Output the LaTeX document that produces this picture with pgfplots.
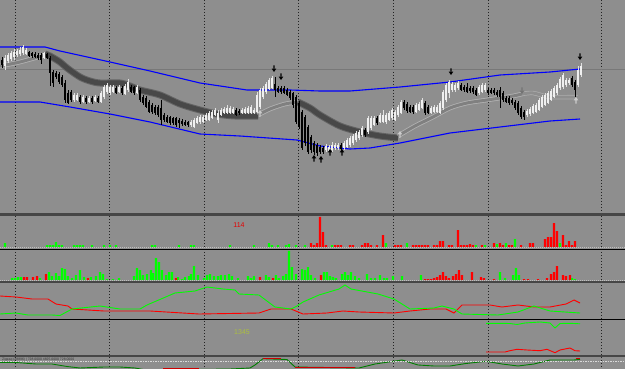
\documentclass[border=0pt]{standalone}
\usepackage{pgfplots}
\pgfplotsset{compat=1.18}
\usepackage{pgfplotstable}
\usepackage{fontspec}
\setmainfont{Liberation Sans}

\definecolor{bg}{RGB}{142,142,142}
\definecolor{sepc}{RGB}{70,70,70}
\definecolor{gridc}{RGB}{35,35,35}
\definecolor{ribedge}{RGB}{100,100,100}
\definecolor{ribcore}{RGB}{72,72,72}
\definecolor{ltedge}{RGB}{178,178,178}
\definecolor{ltcore}{RGB}{128,128,128}
\definecolor{hgreen}{RGB}{0,255,0}
\definecolor{hred}{RGB}{255,0,0}
\definecolor{dkgreen}{RGB}{0,125,0}
\definecolor{olive1}{RGB}{172,192,62}
\definecolor{mblue}{RGB}{0,0,255}

\pgfdeclareplotmark{darr}{%
  \pgfpathrectanglecorners{\pgfpoint{-0.6pt}{0pt}}{\pgfpoint{0.6pt}{3.6pt}}%
  \pgfpathmoveto{\pgfpoint{-2.3pt}{0.4pt}}%
  \pgfpathlineto{\pgfpoint{2.3pt}{0.4pt}}%
  \pgfpathlineto{\pgfpoint{0pt}{-3pt}}%
  \pgfpathclose
  \pgfusepathqfill}
\pgfdeclareplotmark{uarr}{%
  \pgfpathrectanglecorners{\pgfpoint{-0.6pt}{0pt}}{\pgfpoint{0.6pt}{-3.6pt}}%
  \pgfpathmoveto{\pgfpoint{-2.3pt}{-0.4pt}}%
  \pgfpathlineto{\pgfpoint{2.3pt}{-0.4pt}}%
  \pgfpathlineto{\pgfpoint{0pt}{3pt}}%
  \pgfpathclose
  \pgfusepathqfill}

\pgfplotsset{panel/.style={scale only axis, width=625pt, xmin=0, xmax=625,
  hide axis, anchor=north west}}

% candles: x, body top, body bottom, wick top, wick bottom (screen rows)
\pgfplotstableread{
x bt bb wt wb
5 58 66 55 70
8 55 61 53 63
11 53 59 51 61
14 52 57 49 60
17 51 55 49 57
20 50 54 47 56
23 47 53 45 55
26 50 54 48 55
44 53 58 52 59
74 95 100 93 102
77 95 100 93 101
83 97 102 95 103
89 98 102 96 103
95 97 101 95 102
101 93 102 91 103
104 87 97 85 99
107 85 92 83 94
110 87 93 85 95
113 87 92 85 93
119 87 92 85 93
125 86 94 84 95
128 82 90 79 92
137 87 93 85 94
191 122 125 120 127
194 120 127 118 128
197 118 123 116 124
200 117 122 115 124
203 117 122 115 123
206 115 120 113 121
209 113 120 111 121
212 112 118 110 119
215 110 115 108 116
218 113 120 110 123
221 110 115 108 116
224 109 113 107 114
227 108 113 105 114
230 108 113 106 114
233 109 113 107 114
242 110 113 108 114
245 109 113 107 114
248 108 113 106 114
251 107 113 105 114
254 110 113 108 114
257 95 112 92 113
260 90 107 88 109
263 88 97 86 99
266 84 92 82 94
269 80 89 78 90
272 78 88 76 89
326 146 150 144 152
329 147 152 145 153
332 145 150 142 152
335 145 148 143 150
338 145 148 143 150
344 143 148 141 150
347 140 147 138 148
350 138 145 136 147
353 136 143 134 145
356 133 140 131 142
359 132 138 130 140
362 128 135 126 137
368 118 132 116 134
371 118 128 116 130
374 118 125 116 126
380 115 122 113 123
383 115 122 110 123
386 115 122 113 124
389 113 120 111 121
392 110 118 108 120
395 112 120 110 121
398 107 115 105 117
401 102 113 100 114
416 105 112 103 113
419 104 110 102 111
422 100 108 98 109
431 108 113 106 114
434 107 112 105 113
437 107 112 105 113
440 103 113 101 114
443 92 108 90 110
446 85 100 83 102
449 82 93 80 98
452 84 90 82 92
455 85 90 83 92
458 83 88 81 90
479 87 93 85 95
482 85 92 83 93
485 85 90 83 92
527 111 115 109 117
530 109 114 107 116
533 106 113 104 114
536 105 112 103 113
539 100 110 98 111
542 97 107 95 108
545 95 105 93 106
548 93 103 91 104
551 91 100 89 101
554 88 97 86 98
557 85 93 83 95
560 79 88 77 90
563 75 87 73 89
566 80 85 78 87
569 80 83 78 85
578 70 85 66 87
581 66 75 63 77
}\wc
\pgfplotstableread{
x bt bb wt wb
2 60 65 57 68
29 52 56 51 57
32 53 56 52 58
35 54 57 52 58
38 55 58 53 60
41 55 60 53 64
47 54 58 53 59
50 58 73 56 86
53 72 83 70 87
56 73 77 71 79
59 74 82 72 84
62 77 85 75 87
65 83 100 80 103
68 93 103 90 104
71 92 100 90 102
80 97 102 95 104
86 98 102 96 104
92 98 102 96 104
98 98 102 96 103
116 88 93 86 94
122 88 93 86 95
131 87 92 85 93
134 87 93 86 95
140 90 100 88 102
143 97 103 95 105
146 98 107 96 108
149 102 112 100 113
152 105 112 103 114
155 107 113 105 115
158 107 115 105 117
161 108 120 100 125
164 115 120 113 122
167 117 122 115 123
170 117 123 116 125
173 118 123 117 125
176 118 125 117 127
179 120 123 118 128
182 121 124 119 126
185 122 125 120 126
188 122 125 121 127
236 110 115 108 116
239 111 113 109 115
275 84 90 77 97
278 88 92 86 93
281 88 92 86 94
284 88 93 86 94
287 90 95 88 96
290 92 98 90 100
293 93 105 92 108
296 97 122 95 124
299 103 127 101 129
302 112 148 110 150
305 117 143 115 146
308 127 152 125 154
311 137 150 135 153
314 143 152 141 155
317 145 153 143 156
320 147 152 145 154
323 148 152 146 154
341 145 149 143 151
365 130 135 128 137
377 118 123 116 125
404 102 108 100 110
407 104 111 102 113
410 107 112 105 113
413 107 112 105 114
425 103 113 101 115
428 107 113 105 114
461 85 90 83 91
464 87 90 85 92
467 87 92 83 93
470 88 91 86 93
473 88 92 86 94
476 90 95 88 96
488 90 93 88 95
491 90 93 88 94
494 90 93 88 95
497 92 95 90 97
500 90 97 87 108
503 93 100 91 102
506 98 102 96 103
509 98 103 96 105
512 100 103 98 105
515 102 108 100 110
518 103 113 101 115
521 108 117 106 119
524 112 117 110 120
572 78 85 76 87
575 82 90 80 97
}\bc

% histogram 1
\pgfplotstableread{
x h
5 4
47 2
50 2
53 2
56 5
59 2
62 2
74 2
77 2
80 2
83 2
92 2
104 2
110 2
116 2
152 2
155 2
179 2
191 2
194 2
230 2
254 2
269 4
272 2
278 2
286 2
289 3
296 2
305 2
332 2
386 4
407 4
476 2
485 2
497 3
506 4
515 8
560 4
}\hAg
\pgfplotstableread{
x h
311 4
314 2
317 4
320 30
323 15
326 2
335 2
338 2
341 2
350 2
353 2
362 2
365 4
368 4
371 2
377 2
383 12
395 2
398 2
401 2
413 2
416 2
419 2
422 2
425 2
428 2
434 2
437 2
440 6
443 6
449 2
452 2
458 17
461 2
464 2
467 2
470 3
473 2
482 2
494 4
500 4
503 2
509 2
512 2
521 2
530 4
533 4
545 8
548 10
551 10
554 24
557 16
563 12
566 2
569 6
572 2
575 6
}\hAr
% histogram 2
\pgfplotstableread{
x h
12 2
15 2
18 3
21 3
40 2
49 8
52 4
56 7
59 4
62 12
65 11
68 4
72 2
76 5
80 10
84 3
91 3
96 4
100 8
103 6
107 1
113 1
119 2
134 4
137 12
140 10
143 5
147 6
151 10
153 7
156 22
159 18
162 10
166 5
169 8
172 8
178 3
182 1
185 3
189 4
191 6
194 14
198 5
204 2
207 5
210 6
214 4
218 4
221 5
225 5
229 6
232 4
238 2
248 4
251 2
254 4
266 5
269 3
276 5
279 2
283 4
286 6
289 29
292 13
296 6
302 11
305 10
308 13
311 5
315 2
324 8
327 8
330 4
333 3
336 2
342 6
345 8
348 5
351 8
355 4
359 2
367 6
371 2
375 2
380 5
384 2
387 2
393 4
402 4
421 5
500 8
505 2
513 5
516 12
519 5
572 2
575 1
}\hBg
\pgfplotstableread{
x h
24 3
27 3
33 3
37 4
46 6
88 2
176 2
260 3
273 2
321 5
425 1
428 1
431 1
434 2
437 3
440 5
443 8
446 4
449 2
453 4
456 6
459 10
462 5
472 8
481 3
484 2
494 1
524 1
528 1
538 1
547 2
551 6
554 8
557 14
563 5
566 4
570 5
}\hBr

\begin{document}
\begin{tikzpicture}[x=1pt,y=1pt]
\fill[bg] (0pt,0pt) rectangle (625pt,-369pt);
\useasboundingbox (0pt,0pt) rectangle (625pt,-369pt);
% grid
\foreach \gx in {15.5,109.5,204,298.5,393.5,488.3,601.5}
  \draw[gridc, line width=0.55pt, dash pattern=on 1pt off 2pt] (\gx pt,0pt) -- (\gx pt,-369pt);
\draw[black!53, line width=0.6pt] (0pt,-69pt) -- (625pt,-69pt);

% ===== main panel =====
\begin{axis}[panel, at={(0pt,0pt)}, height=213pt, ymin=0, ymax=213, y dir=reverse]
\addplot[no marks, mblue, line width=1.1pt] coordinates {(0,47)(20,47)(45,47)(60,51)(110,62)(150,71)(200,83)(247,90)(290,90)(320,91)(350,91)(400,87)(450,82)(500,75)(550,72)(580,69)};
\addplot[no marks, mblue, line width=1.1pt] coordinates {(0,102)(40,102)(70,107)(110,114)(150,122)(200,134)(240,136)(297,140)(320,146)(350,149)(370,148)(400,143)(450,133)(500,127)(550,121)(580,119)};
% ribbons
\addplot[no marks, smooth, draw=ltedge, double=ltcore, double distance=3pt, line width=0.8pt] coordinates {(0,66)(20,62)(45,55)};
\addplot[no marks, smooth, draw=ribedge, double=ribcore, double distance=5pt, line width=1pt] coordinates {(45,54)(50,56)(60,62)(67,68)(80,77)(90,81)(100,83)(120,83)(130,86)(140,90)(160,95)(180,104)(200,110)(217,114)(235,116)(258,116)};
\addplot[no marks, smooth, draw=ltedge, double=ltcore, double distance=3pt, line width=0.8pt] coordinates {(258,115)(270,109)(285,104)(298,102)};
\addplot[no marks, smooth, draw=ribedge, double=ribcore, double distance=5pt, line width=1pt] coordinates {(298,102)(310,108)(320,115)(340,126)(360,132)(380,136)(398,138)};
\addplot[no marks, smooth, draw=ltedge, double=ltcore, double distance=3pt, line width=0.8pt] coordinates {(398,136)(415,126)(433,117)(450,108)(467,103)(487,100)(500,98)(513,96)(522,94)};
\addplot[no marks, smooth, draw=ltedge!85!bg, double=bg, double distance=3pt, line width=0.7pt] coordinates {(522,94)(533,93)(550,97)(578,97)};
% candles: wicks then bodies
\addplot[draw=none, error bars/.cd, y dir=both, y explicit, error mark=none, error bar style={draw=white!88!black, line width=0.6pt}]
  table[x=x, y expr={(\thisrow{wt}+\thisrow{wb})/2}, y error expr={(\thisrow{wb}-\thisrow{wt})/2}] {\wc};
\addplot[draw=none, error bars/.cd, y dir=both, y explicit, error mark=none, error bar style={draw=white!94!black, line width=1.9pt}]
  table[x=x, y expr={(\thisrow{bt}+\thisrow{bb})/2}, y error expr={(\thisrow{bb}-\thisrow{bt})/2}] {\wc};
\addplot[draw=none, error bars/.cd, y dir=both, y explicit, error mark=none, error bar style={draw=black, line width=0.6pt}]
  table[x=x, y expr={(\thisrow{wt}+\thisrow{wb})/2}, y error expr={(\thisrow{wb}-\thisrow{wt})/2}] {\bc};
\addplot[draw=none, error bars/.cd, y dir=both, y explicit, error mark=none, error bar style={draw=black, line width=1.9pt}]
  table[x=x, y expr={(\thisrow{bt}+\thisrow{bb})/2}, y error expr={(\thisrow{bb}-\thisrow{bt})/2}] {\bc};
% arrows
\addplot[only marks, mark=darr, black] coordinates {(274,69)(281,77)(451,72)(580,57)};
\addplot[only marks, mark=uarr, black] coordinates {(314,158)(321,159)(330,152)(342,152)};
\addplot[only marks, mark=uarr, black!20] coordinates {(260,113)(400,134)(576,100)};
\addplot[only marks, mark=darr, black!55] coordinates {(522,91)};
\end{axis}

% ===== histogram 1 =====
\begin{axis}[panel, at={(0pt,-216pt)}, height=31pt, ymin=0, ymax=31]
\addplot[ybar, bar width=2.2pt, bar shift=0pt, fill=hgreen, draw=none] table[x=x,y=h] {\hAg};
\addplot[ybar, bar width=2.2pt, bar shift=0pt, fill=hred, draw=none] table[x=x,y=h] {\hAr};
\node[text=red!90!black, font=\fontsize{7}{7}\selectfont] at (axis cs:239,22) {114};
\end{axis}

% ===== histogram 2 =====
\begin{axis}[panel, at={(0pt,-250pt)}, height=30pt, ymin=0, ymax=30]
\addplot[ybar, bar width=2.2pt, bar shift=0pt, fill=hgreen, draw=none] table[x=x,y=h] {\hBg};
\addplot[ybar, bar width=2.2pt, bar shift=0pt, fill=hred, draw=none] table[x=x,y=h] {\hBr};
\end{axis}

% ===== line panel =====
\begin{axis}[panel, at={(0pt,-283pt)}, height=36pt, ymin=283, ymax=319, y dir=reverse]
\addplot[no marks, hred, line width=0.9pt] coordinates {(0,296)(16,297)(32,299)(48,299)(56,304)(68,306)(72,309)(104,311)(140,311)(150,311)(199,314)(259,313)(271,309)(291,309)(303,314)(327,313)(343,311)(359,312)(394,313)(410,311)(430,309)(446,309)(454,313)(462,305)(474,305)(490,305)(502,307)(518,305)(534,307)(550,307)(566,304)(574,300)(580,303)};
\addplot[no marks, hgreen, line width=0.9pt] coordinates {(0,314)(16,313)(28,315)(52,315)(60,315.5)(72,309)(100,306)(120,309)(140,309)(147,305)(175,293)(195,291)(207,287)(223,289)(235,290)(239,294)(259,295)(275,307)(291,309)(297,306)(303,302)(319,295)(339,289)(345,285)(351,289)(378,294)(394,299)(410,309)(434,308)(442,306)(454,309)(462,314)(498,315)(518,312)(534,306)(550,311)(580,313)};
\end{axis}

% ===== second line panel =====
\begin{axis}[panel, at={(0pt,-320pt)}, height=35pt, ymin=320, ymax=355, y dir=reverse]
\addplot[no marks, hgreen, line width=0.9pt] coordinates {(486,323.3)(500,323.3)(510,323.5)(517,324.5)(525,323)(540,322)(550,323)(555,328)(560,323.5)(570,323.3)(580,323.8)};
\addplot[no marks, hred, line width=0.9pt] coordinates {(486,352)(505,352)(510,350.7)(517,349.3)(527,350)(540,350.7)(547,349.3)(555,352.7)(560,350)(570,348)(575,350.7)(580,351)};
\node[text=olive1, font=\fontsize{7}{7}\selectfont] at (axis cs:242,332) {1345};
\end{axis}

% ===== bottom panel =====
\begin{axis}[panel, at={(0pt,-357pt)}, height=12pt, ymin=357, ymax=369, y dir=reverse]
\addplot[no marks, dkgreen, line width=0.9pt] coordinates {(0,362.3)(16,362.5)(36,364)(52,364)(67,366.5)(80,368)(104,367)(120,367)(135,368)(143,369.5)(195,369.5)(230,369)(250,368)(255,365)(263,358.7)(287,359.5)(295,367)(359,368)(375,364)(402,360)(418,365)(434,366)(450,366)(466,363.5)(486,361.3)(502,364)(518,366)(534,364)(550,360)(574,360)(580,359.3)};
\addplot[no marks, red!80!black, line width=1pt] coordinates {(163,368)(199,368)};
\addplot[no marks, red!80!black, line width=1pt] coordinates {(295,367)(355,367)};
\addplot[no marks, red!80!black, line width=1.2pt] coordinates {(263,358.6)(281,358.6)};
\addplot[no marks, red!80!black, line width=1.2pt] coordinates {(576,358.6)(580,358.6)};
\node[anchor=west, text=black!80, font=\fontsize{3.4}{3.4}\selectfont, inner sep=0pt] at (axis cs:2,359.3) {Zigzag (28896) | 728.0000 4825.0000 728.0000};
\end{axis}

% separators and baselines
\fill[sepc] (0pt,-213.3pt) rectangle (625pt,-216pt);
\draw[black, line width=1pt] (0pt,-249.5pt) -- (625pt,-249.5pt);
\fill[sepc] (0pt,-280.8pt) rectangle (625pt,-283pt);
\draw[black, line width=1pt] (0pt,-319.5pt) -- (625pt,-319.5pt);
\fill[sepc] (0pt,-354.8pt) rectangle (625pt,-357pt);
\draw[black!25, line width=0.5pt, dash pattern=on 1pt off 1pt] (0pt,-247.3pt) -- (625pt,-247.3pt);
\draw[black!25, line width=0.5pt, dash pattern=on 1pt off 1pt] (0pt,-280.3pt) -- (625pt,-280.3pt);
\draw[white!85!black, line width=0.5pt, dash pattern=on 1.5pt off 1pt] (0pt,-361pt) -- (625pt,-361pt);
\end{tikzpicture}
\end{document}
